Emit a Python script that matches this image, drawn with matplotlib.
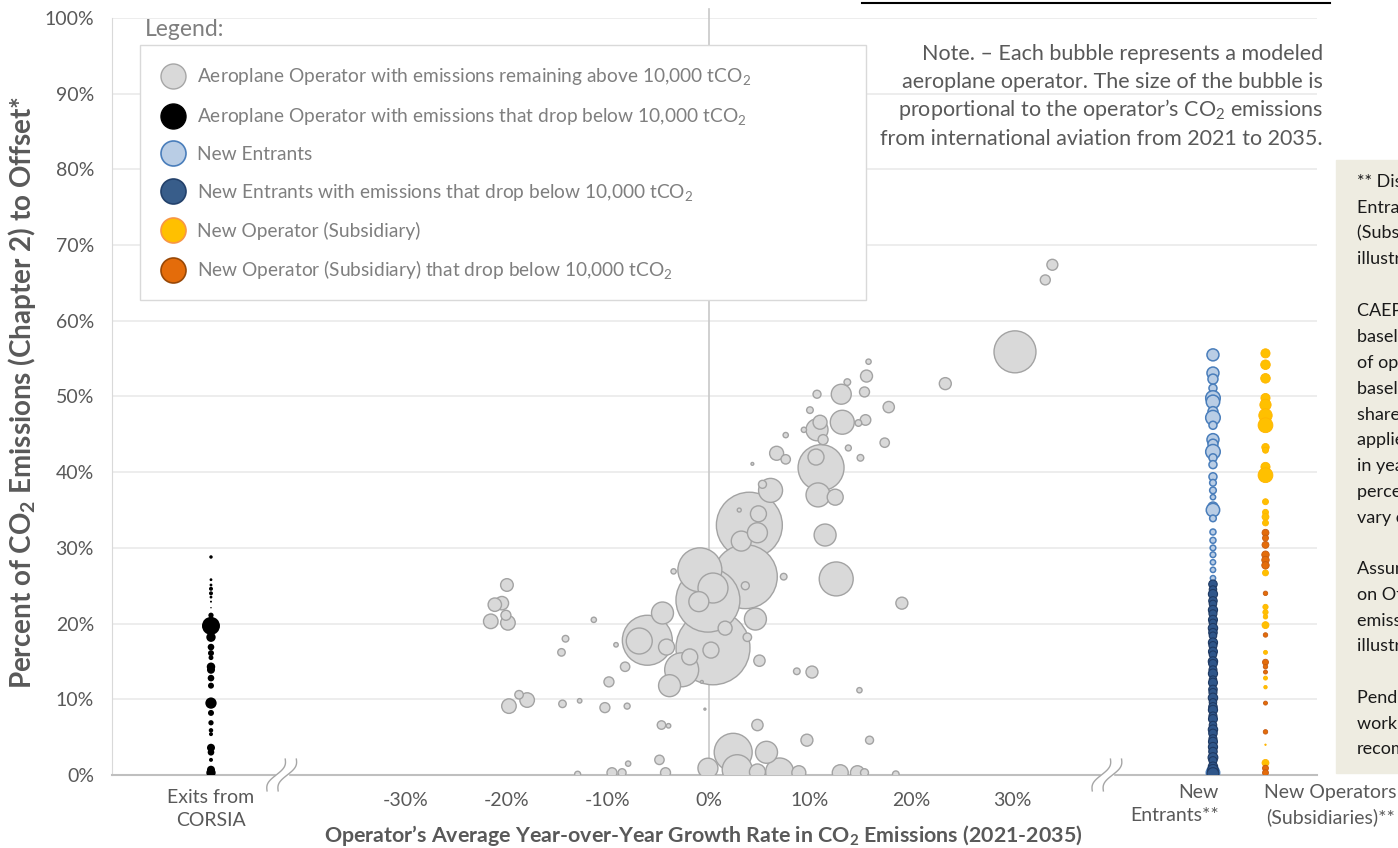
import numpy as np
import matplotlib
matplotlib.use("Agg")
import matplotlib.pyplot as plt
from matplotlib.lines import Line2D
from matplotlib.patches import Rectangle

plt.rcParams['font.family'] = ['Lato', 'DejaVu Sans']
plt.rcParams['mathtext.fontset'] = 'custom'
plt.rcParams['mathtext.rm'] = 'Lato'
plt.rcParams['mathtext.it'] = 'Lato:italic'
plt.rcParams['mathtext.bf'] = 'Lato:bold'

# operators that stay above 10,000 tCO2: growth rate (%), share to offset (%), emissions (Mt)
gx = [15.8, 15.6, 13.7, 13.1, 10.7, 15.4, 17.8, 10.0, 13.2, 15.5,
      14.8, 11.0, 10.7, 9.4, 11.3, 7.6, 17.4, 13.8, 15.0, 11.1,
      10.6, 6.7, 7.6, 4.3, 10.8, 12.5, 6.1, 5.3, 4.0, 4.9,
      3.0, 3.2, 4.8, 11.5, 3.6, -0.9, 12.6, 19.1, 7.4, -3.5,
      -0.1, -1.0, 0.4, 3.6, 4.6, 0.4, 1.6, 0.2, -6.1, -6.9,
      -4.6, -4.2, -1.9, -2.7, -3.9, 3.8, 5.0, 10.2, 8.7, 14.9,
      -0.7, -0.4, -8.3, -9.9, -9.2, -11.4, -14.2, -14.6, -20.0, -21.2,
      -20.5, -20.1, -19.9, -21.6, -19.8, -18.0, -18.8, -14.5, -12.8, -10.3,
      -8.1, -4.7, -4.0, 4.8, 9.7, 15.9, 2.4, 5.7, -4.9, -8.0,
      7.0, 8.9, 2.8, -0.1, 4.8, 13.0, 14.7, 15.4, 18.5, -9.6,
      -8.6, -4.3, -13.0, 23.4, 30.3, 33.3, 34.0]
gy = [54.6, 52.7, 51.9, 50.3, 50.3, 50.6, 48.6, 48.2, 46.6, 46.9,
      46.5, 46.6, 45.6, 45.6, 44.3, 44.9, 43.9, 43.2, 41.9, 40.6,
      42.0, 42.5, 41.7, 41.1, 37.0, 36.7, 37.6, 38.4, 33.0, 34.5,
      35.0, 30.9, 32.0, 31.7, 26.2, 27.1, 25.9, 22.7, 26.2, 26.9,
      23.1, 22.9, 24.7, 25.0, 20.6, 16.8, 19.4, 16.5, 17.8, 17.7,
      21.4, 16.9, 15.6, 13.9, 11.8, 18.2, 15.1, 13.6, 13.7, 11.2,
      12.3, 8.7, 14.3, 12.3, 17.2, 20.5, 18.0, 16.2, 25.1, 22.5,
      22.7, 21.1, 20.1, 20.3, 9.1, 9.9, 10.6, 9.4, 9.8, 8.9,
      9.1, 6.6, 6.5, 6.6, 4.6, 4.6, 3.0, 3.0, 2.0, 1.5,
      0.4, 0.3, 0.7, 0.9, 0.4, 0.3, 0.3, 0.3, 0.1, 0.3,
      0.3, 0.3, 0.1, 51.7, 55.9, 65.4, 67.4]
ge = [0.7, 3.6, 1.1, 10, 1.6, 2.5, 3.2, 1.1, 14.4, 2.8,
      1.1, 4.9, 12.1, 0.7, 2.5, 0.7, 2.2, 0.9, 1.1, 52.9,
      6.4, 4.9, 2.2, 0.2, 14.4, 6.4, 14.4, 1.6, 108.9, 6.4,
      0.4, 10, 10, 12.1, 102.4, 48.4, 28.9, 3.6, 1.1, 0.7,
      102.4, 10, 22.5, 1.6, 12.1, 136.9, 4.9, 6.4, 62.5, 16.9,
      12.1, 6.4, 6.4, 28.9, 12.1, 1.8, 3.2, 3.6, 1.1, 0.7,
      0.2, 0.1, 2.2, 2.5, 0.5, 0.7, 1.1, 1.4, 4.0, 4.5,
      4.5, 2.5, 5.3, 5.3, 5.3, 5.3, 1.8, 1.4, 0.5, 2.5,
      0.9, 1.8, 0.5, 3.2, 3.6, 1.6, 36.1, 12.1, 2.2, 0.7,
      19.6, 4.9, 22.5, 10, 6.4, 6.4, 4.9, 1.6, 1.1, 2.5,
      1.6, 2.5, 0.9, 3.6, 44.1, 2.5, 3.0]

# operators that exit CORSIA
exit_y = [28.8, 25.8, 25.1, 24.6, 24.0, 23.5, 22.9, 22.1, 21.1, 19.7,
          18.2, 16.9, 16.1, 15.5, 14.3, 13.9, 12.8, 11.8, 9.5, 8.2,
          6.9, 5.9, 5.4, 3.6, 3.0, 2.0, 0.7, 0.3]
exit_e = [0.3, 0.2, 0.2, 0.4, 0.4, 0.2, 0.1, 0.05, 0.7, 8.1,
          2.2, 1.1, 0.9, 0.6, 1.8, 1.6, 1.1, 0.9, 3.2, 0.9,
          0.7, 0.5, 0.4, 1.6, 1.1, 0.4, 1.6, 2.2]

# new entrants
ne_y = [55.5, 53.1, 52.3, 51.1, 49.8, 49.3, 48.0, 47.2, 46.2, 44.3,
        43.7, 42.7, 41.9, 41.0, 39.4, 38.6, 37.6, 36.7, 35.4, 35.0,
        33.9, 32.1, 31.0, 30.0, 29.1, 28.1, 27.1, 26.0, 2.4, 0.3]
ne_e = [3.6, 3.6, 2.5, 1.6, 5.3, 4.5, 2.5, 5.3, 1.6, 3.6,
        2.5, 5.3, 1.6, 1.6, 1.6, 1.1, 1.1, 0.7, 2.5, 4.5,
        1.1, 0.9, 0.9, 0.8, 0.8, 0.7, 0.7, 0.7, 1.6, 4.5]
ne_low_y = [25.2, 24.5, 23.9, 23.0, 22.6, 21.8, 21.3, 20.5, 20.1, 19.4,
            18.8, 18.4, 17.5, 17.1, 16.3, 15.9, 15.0, 14.7, 13.9, 13.4,
            12.6, 12.2, 11.3, 10.9, 10.2, 9.6, 9.0, 8.6, 7.8, 7.4,
            6.6, 6.0, 5.5, 4.8, 4.4, 3.7, 3.1, 2.3, 1.9, 1.1,
            0.7, 0.2]
ne_low_e = [1.8, 1.4, 2.1, 1.8, 1.4, 2.1, 1.6, 2.0, 1.4, 2.2,
            1.8, 1.4, 2.1, 1.6, 2.0, 1.4, 2.2, 1.8, 1.6, 2.1,
            1.4, 2.0, 1.8, 1.6, 2.2, 1.4, 1.8, 2.1, 1.6, 2.0,
            1.4, 2.2, 1.8, 1.6, 2.0, 2.1, 1.8, 2.4, 1.6, 2.2,
            2.8, 3.4]

# new operators (subsidiaries)
sub_y = [55.7, 54.2, 52.4, 49.8, 48.9, 47.5, 46.2, 43.3, 42.9, 40.7,
         39.6, 36.1, 34.7, 34.1, 33.3, 26.7, 22.2, 21.5, 20.9, 19.8,
         16.2, 12.8, 11.6, 4.0, 1.6]
sub_e = [2.1, 2.3, 2.3, 2.1, 3.2, 4.5, 5.5, 1.4, 0.9, 2.1,
         5.5, 0.9, 0.9, 1.2, 0.9, 0.9, 0.7, 0.7, 0.5, 1.2,
         0.4, 0.4, 0.3, 0.05, 1.2]
sub_low_y = [32.0, 31.3, 30.4, 29.1, 28.4, 27.7, 24.0, 18.5, 14.9, 14.3,
             13.6, 9.5, 5.7, 0.9, 0.3]
sub_low_e = [1.2, 0.9, 1.2, 1.4, 1.4, 1.4, 0.5, 0.5, 0.9, 0.5,
             0.4, 0.4, 0.5, 0.9, 0.9]

# x positions of the category columns and axis breaks
x_exit, x_new, x_sub = -49.3, 49.9, 55.1
x_breaks = [-42.3, 39.4]
x_ticks = [-30, -20, -10, 0, 10, 20, 30]
y_ticks = list(range(0, 101, 10))

GREY_TXT = '#595959'
SCALE = 20.7  # points^2 per Mt


def area(e):
    return SCALE * np.asarray(e, dtype=float)


fig = plt.figure(figsize=(13.98, 8.48), dpi=100)
W, H = 1398, 848
ax = fig.add_axes([112 / W, 1 - 775 / H, (1317 - 112) / W, (775 - 18) / H])
ax.set_xlim(-59.1, 60.2)
ax.set_ylim(0, 100)

ax.set_yticks(y_ticks)
ax.set_yticklabels([f'{t}%' for t in y_ticks])
ax.set_xticks(x_ticks)
ax.set_xticklabels([f'{t}%' for t in x_ticks])
ax.tick_params(length=0, colors=GREY_TXT, labelsize=14)
ax.tick_params(axis='y', pad=13)
ax.tick_params(axis='x', pad=12)
ax.grid(axis='y', color='#ececec', lw=1.3)
ax.set_axisbelow(True)
for s in ['top', 'right']:
    ax.spines[s].set_visible(False)
ax.spines['left'].set_color('#d9d9d9')
ax.spines['bottom'].set_color('#bfbfbf')
ax.spines['bottom'].set_linewidth(1.5)
ax.plot([0, 0], [0, 101.2], color='#c8c8c8', lw=1.2, clip_on=False, zorder=1)

# grey bubbles, big ones first so the small ones stay visible
order = np.argsort(ge)[::-1]
ax.scatter(np.array(gx)[order], np.array(gy)[order], s=area(np.array(ge)[order]),
           facecolor='#d9d9d9', edgecolor='#a3a3a3', lw=1, zorder=3)

ax.scatter([x_exit] * len(exit_y), exit_y, s=area(exit_e), color='black', lw=0, zorder=3)

ax.scatter([x_new] * len(ne_y), ne_y, s=area(ne_e), facecolor='#b9cde5',
           edgecolor='#4a7ebb', lw=1.1, zorder=3)
ax.scatter([x_new] * len(ne_low_y), ne_low_y, s=area(ne_low_e), facecolor='#2f568a',
           edgecolor='#1f3a63', lw=0.8, zorder=4)

ax.scatter([x_sub] * len(sub_y), sub_y, s=area(sub_e), facecolor='#ffc000',
           edgecolor='#ffb400', lw=0.6, zorder=3)
ax.scatter([x_sub] * len(sub_low_y), sub_low_y, s=area(sub_low_e), facecolor='#e46c0a',
           edgecolor='#c55a11', lw=0.6, zorder=4)

# axis break marks
bt = ax.get_xaxis_transform()
t = np.linspace(-1, 1, 40)
for xb in x_breaks:
    ax.add_patch(Rectangle((xb - 0.6, -0.01), 1.2, 0.02, transform=bt, color='white',
                           clip_on=False, zorder=5))
    for off in (-0.55, 0.55):
        ax.plot(xb + off + 0.9 * t + 0.35 * np.sin(np.pi * t), 0.021 * t,
                transform=bt, color='#a6a6a6', lw=1, clip_on=False, zorder=6)

# category labels under the columns
ax.text(x_exit, -0.018, 'Exits from\nCORSIA', transform=bt, ha='center', va='top',
        color=GREY_TXT, fontsize=14, linespacing=1.45)
ax.text(x_new + 0.6, -0.012, 'New\nEntrants**', transform=bt, ha='right', va='top',
        multialignment='right', color=GREY_TXT, fontsize=14, linespacing=1.45)
ax.text(61.5, -0.012, 'New Operators\n(Subsidiaries)**', transform=bt, ha='center',
        va='top', color=GREY_TXT, fontsize=14, linespacing=1.45, clip_on=False)

fig.text(703 / W, 1 - 836 / H,
         r'Operator’s Average Year-over-Year Growth Rate in CO$_\mathbf{2}$ Emissions (2021-2035)',
         ha='center', va='center', fontsize=15.4, fontweight='bold', color=GREY_TXT)
fig.text(22 / W, 1 - 392 / H,
         r'Percent of CO$_\mathbf{2}$ Emissions (Chapter 2) to Offset*',
         ha='center', va='center', rotation=90, fontsize=20, fontweight='bold', color=GREY_TXT)

# legend: white box first, then entries on top
ax.add_patch(Rectangle((140 / W, 1 - 300 / H), (866 - 140) / W, (300 - 45) / H,
                       transform=fig.transFigure, facecolor='white', edgecolor='#d9d9d9',
                       lw=1, zorder=9, clip_on=False))
handles = [
    Line2D([], [], ls='', marker='o', ms=18, mfc='#d9d9d9', mec='#a6a6a6', mew=1),
    Line2D([], [], ls='', marker='o', ms=18, mfc='black', mec='black'),
    Line2D([], [], ls='', marker='o', ms=18, mfc='#b9cde5', mec='#4a7ebb', mew=1.2),
    Line2D([], [], ls='', marker='o', ms=18, mfc='#385d8a', mec='#23416b', mew=1.2),
    Line2D([], [], ls='', marker='o', ms=18, mfc='#ffc000', mec='#f79646', mew=1.2),
    Line2D([], [], ls='', marker='o', ms=18, mfc='#e46c0a', mec='#984807', mew=1.2),
]
labels = [
    r'Aeroplane Operator with emissions remaining above 10,000 tCO$_2$',
    r'Aeroplane Operator with emissions that drop below 10,000 tCO$_2$',
    'New Entrants',
    r'New Entrants with emissions that drop below 10,000 tCO$_2$',
    'New Operator (Subsidiary)',
    r'New Operator (Subsidiary) that drop below 10,000 tCO$_2$',
]
leg = ax.legend(handles, labels, loc='upper left', bbox_to_anchor=(140 / W, 1 - 45 / H),
                bbox_transform=fig.transFigure, borderaxespad=0, fontsize=13.8,
                labelcolor='#7f7f7f', frameon=False,
                borderpad=1.12, handlelength=1.2, handletextpad=0.65, labelspacing=0.98)
leg.set_zorder(10)
fig.text(145 / W, 1 - 30 / H, 'Legend:', ha='left', va='center', fontsize=16.5, color='#7f7f7f')

note_lines = [
    'Note. – Each bubble represents a modeled',
    'aeroplane operator. The size of the bubble is',
    'proportional to the operator’s CO$_2$ emissions',
    'from international aviation from 2021 to 2035.',
]
for ypx, line in zip([60, 88, 116, 145], note_lines):
    fig.text(1323 / W, 1 - ypx / H, line, ha='right', va='baseline', fontsize=15.5,
             color=GREY_TXT)

# side panel with footnotes
fig.patches.append(Rectangle((1336 / W, 1 - 773 / H), 80 / W, (773 - 160) / H,
                             transform=fig.transFigure, color='#eeece1', zorder=0))
side = ('** Distribution of New\nEntrants and New Operators\n(Subsidiaries) is for\n'
        'illustrative purposes only.\n\n'
        'CAEP assumed the\nbaseline is the average\nof operators’ 2019-2020\n'
        'baseline emissions; the\nshare of the sector’s\napplied growth factor\n'
        'in year y; and the\npercentage is assumed to\nvary over time.\n\n'
        'Assumes that the\non Offsetting method and\nemissions values are\n'
        'illustrative only.\n\n'
        'Pending further\nwork and\nrecommendations.')
fig.text(1357 / W, 1 - 174 / H, side, ha='left', va='top', fontsize=13,
         color='#1a1a1a', linespacing=1.75)

fig.add_artist(Line2D([862 / W, 1330 / W], [1 - 2.5 / H, 1 - 2.5 / H], color='black', lw=1.5))

fig.savefig('out.png', dpi=100)
